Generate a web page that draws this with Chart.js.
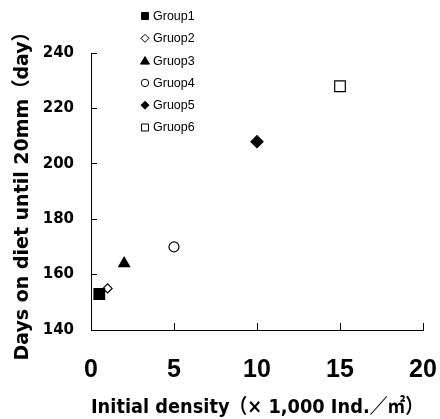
<!DOCTYPE html>
<html>
<head>
<meta charset="utf-8">
<script src="https://cdn.jsdelivr.net/npm/chart.js@4.4.1/dist/chart.umd.min.js"></script>
<style>
  html, body { margin: 0; padding: 0; background: #fff; }
  #wrap { width: 440px; height: 419px; }
</style>
</head>
<body>
<div id="wrap"><canvas id="c" width="440" height="419"></canvas></div>
<script>
const groupLabels = ["Group1", "Gruop2", "Gruop3", "Gruop4", "Gruop5", "Gruop6"];
const densityValues = [0.5, 1, 2, 5, 10, 15];
const dayValues = [153, 155, 164, 170, 208, 228];
const pointStyles = ["rect", "rectRot", "triangle", "circle", "rectRot", "rect"];
const filled = [true, false, true, false, true, false];
const pointRadii = [7.5, 4.5, 6.3, 5, 6, 7.5];
const xTicks = [0, 5, 10, 15, 20];
const yTicks = [140, 160, 180, 200, 220, 240];

const datasets = groupLabels.map((lab, i) => ({
  label: lab,
  data: [{ x: densityValues[i], y: dayValues[i] }],
  pointStyle: pointStyles[i],
  pointRadius: pointRadii[i],
  pointHoverRadius: pointRadii[i],
  backgroundColor: filled[i] ? '#000' : '#fff',
  borderColor: '#000',
  pointBorderWidth: 1.2,
  showLine: false
}));

const legendPlugin = {
  id: 'vlegend',
  afterDraw(chart) {
    const ctx = chart.ctx;
    ctx.save();
    ctx.font = '12.5px "Liberation Sans", Arial, sans-serif';
    ctx.textBaseline = 'middle';
    chart.data.datasets.forEach((ds, i) => {
      const y = 16 + i * 22.3;
      const x = 145;
      ctx.beginPath();
      ctx.lineWidth = 1;
      ctx.strokeStyle = '#000';
      const st = ds.pointStyle;
      if (st === 'rect') { ctx.rect(x - 3.5, y - 3.5, 7, 7); }
      else if (st === 'rectRot') { ctx.moveTo(x, y - 4); ctx.lineTo(x + 4, y); ctx.lineTo(x, y + 4); ctx.lineTo(x - 4, y); ctx.closePath(); }
      else if (st === 'triangle') { ctx.moveTo(x, y - 4); ctx.lineTo(x + 4.5, y + 3.5); ctx.lineTo(x - 4.5, y + 3.5); ctx.closePath(); }
      else { ctx.arc(x, y, 3.7, 0, Math.PI * 2); }
      ctx.fillStyle = ds.backgroundColor;
      ctx.fill();
      ctx.stroke();
      ctx.fillStyle = '#000';
      ctx.textAlign = 'left';
      ctx.fillText(ds.label, 153, y + 0.5);
    });
    ctx.restore();
  }
};

new Chart(document.getElementById('c'), {
  type: 'scatter',
  data: { datasets },
  plugins: [legendPlugin],
  options: {
    responsive: false,
    animation: false,
    events: [],
    layout: { padding: { left: 0, top: 53, right: 17, bottom: 0 } },
    plugins: { legend: { display: false }, tooltip: { enabled: false } },
    scales: {
      x: {
        type: 'linear',
        min: 0, max: 20,
        afterBuildTicks(s) { s.ticks = xTicks.map(v => ({ value: v })); },
        afterFit(s) { s.height = 89; s.paddingLeft = 0; s.paddingRight = 0; },
        grid: { drawOnChartArea: false, drawTicks: true, tickLength: -7, color: '#000', lineWidth: 1 },
        border: { display: true, color: '#000', width: 1 },
        ticks: { color: '#000', padding: 32, font: { family: '"Liberation Sans", Arial, sans-serif', size: 25, weight: 'bold' } },
        title: {
          display: true,
          text: 'Initial density（× 1,000 Ind.／㎡）',
          color: '#000',
          padding: { top: 0, bottom: -1 },
          font: { family: '"DejaVu Sans", "Noto Sans CJK JP", sans-serif', size: 20, weight: 'bold' }
        }
      },
      y: {
        type: 'linear',
        min: 140, max: 240,
        afterBuildTicks(s) { s.ticks = yTicks.map(v => ({ value: v })); },
        afterFit(s) { s.width = 91; s.paddingTop = 0; s.paddingBottom = 0; },
        grid: { drawOnChartArea: false, drawTicks: true, tickLength: -6, color: '#000', lineWidth: 1 },
        border: { display: true, color: '#000', width: 1 },
        ticks: { color: '#000', padding: 23, font: { family: '"DejaVu Sans", sans-serif', size: 15, weight: 'bold' } },
        title: {
          display: true,
          text: 'Days on diet until 20mm（day）',
          color: '#000',
          padding: { top: 12, bottom: 0 },
          font: { family: '"DejaVu Sans", "Noto Sans CJK JP", sans-serif', size: 19, weight: 'bold' }
        }
      }
    }
  }
});
</script>
</body>
</html>
